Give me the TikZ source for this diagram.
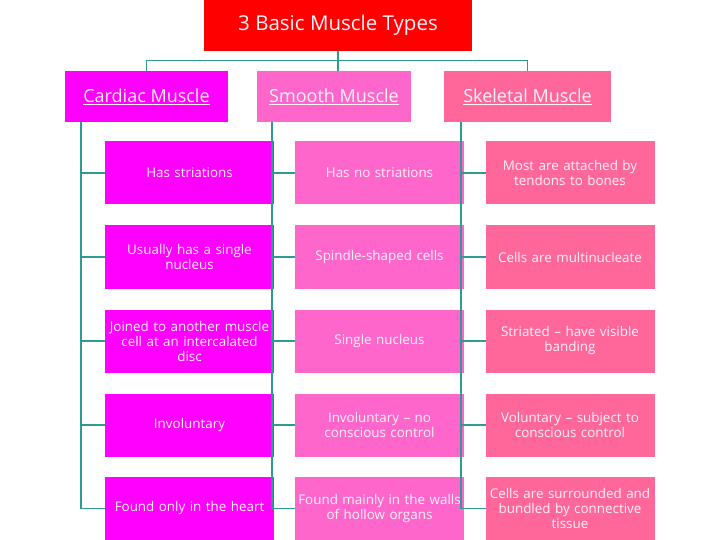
\documentclass[tikz,border=0pt]{standalone}
\usepackage{fontspec}
\setmainfont{Open Sans}
\definecolor{topred}{HTML}{FF0000}
\definecolor{cardc}{HTML}{FF00FF}
\definecolor{smoothc}{HTML}{FF66CC}
\definecolor{skelc}{HTML}{FF6699}
\definecolor{linec}{HTML}{2E9A94}
\definecolor{txtc}{HTML}{FFF4FA}
\tikzset{
  box/.style={draw=none, inner sep=1pt, outer sep=0pt, align=center, text=txtc},
  cellbox/.style={box, minimum width=169pt, minimum height=63pt, text width=167pt,
    font=\fontsize{13.4}{15}\selectfont},
  headbox/.style={box, minimum height=51pt, font=\fontsize{18}{21}\selectfont},
  conn/.style={draw=linec, line width=1.3pt},
}
\begin{document}
\begin{tikzpicture}[x=1pt,y=-1pt]
\useasboundingbox (0,0) rectangle (720,540);
% title
\node[box, fill=topred, minimum width=268pt, minimum height=51pt,
  font=\fontsize{20.5}{24}\selectfont] (top) at (338,25.5) {3 Basic Muscle Types};
% headers
\node[headbox, fill=cardc, minimum width=163pt] (card) at (146.5,96.5) {\underline{Cardiac Muscle}};
\node[headbox, fill=smoothc, minimum width=154pt] (smooth) at (334,96.5) {\underline{Smooth Muscle}};
\node[headbox, fill=skelc, minimum width=167pt] (skel) at (527.5,96.5) {\underline{Skeletal Muscle}};
% cells column 1
\node[cellbox, fill=cardc] (c1) at (189.5,173) {Has striations};
\node[cellbox, fill=cardc] (c2) at (189.5,257) {Usually has a single\\nucleus};
\node[cellbox, fill=cardc] (c3) at (189.5,341) {Joined to another muscle\\cell at an intercalated\\disc};
\node[cellbox, fill=cardc] (c4) at (189.5,425) {Involuntary};
\node[cellbox, fill=cardc] (c5) at (189.5,508.5) {Found only in the heart};
% column 2
\node[cellbox, fill=smoothc] (s1) at (379.5,173) {Has no striations};
\node[cellbox, fill=smoothc] (s2) at (379.5,257) {Spindle-shaped cells};
\node[cellbox, fill=smoothc] (s3) at (379.5,341) {Single nucleus};
\node[cellbox, fill=smoothc] (s4) at (379.5,425) {Involuntary -- no\\conscious control};
\node[cellbox, fill=smoothc] (s5) at (379.5,508.5) {Found mainly in the walls\\of hollow organs};
% column 3
\node[cellbox, fill=skelc] (k1) at (570,173) {Most are attached by\\tendons to bones};
\node[cellbox, fill=skelc] (k2) at (570,257) {Cells are multinucleate};
\node[cellbox, fill=skelc] (k3) at (570,341) {Striated -- have visible\\banding};
\node[cellbox, fill=skelc] (k4) at (570,425) {Voluntary -- subject to\\conscious control};
\node[cellbox, fill=skelc] (k5) at (570,508.5) {Cells are surrounded and\\bundled by connective\\tissue};
% top connectors
\coordinate (j) at ([yshift=-9.5pt]top.south);
\draw[conn] (top.south) -- (top.south |- smooth.north);
\draw[conn] (j) -| (card.north);
\draw[conn] (j) -| (skel.north);
% column trunks
\coordinate (ct) at ([xshift=16pt]card.south west);
\coordinate (st) at ([xshift=15pt]smooth.south west);
\coordinate (kt) at ([xshift=17pt]skel.south west);
\draw[conn] (ct) -- (ct |- c5.west);
\draw[conn] (st) -- (st |- s5.west);
\draw[conn] (kt) -- (kt |- k5.west);
\foreach \n in {1,...,5}{
  \draw[conn] (ct |- c\n.west) -- (c\n.west);
  \draw[conn] (st |- s\n.west) -- (s\n.west);
  \draw[conn] (kt |- k\n.west) -- (k\n.west);
}
\end{tikzpicture}
\end{document}
